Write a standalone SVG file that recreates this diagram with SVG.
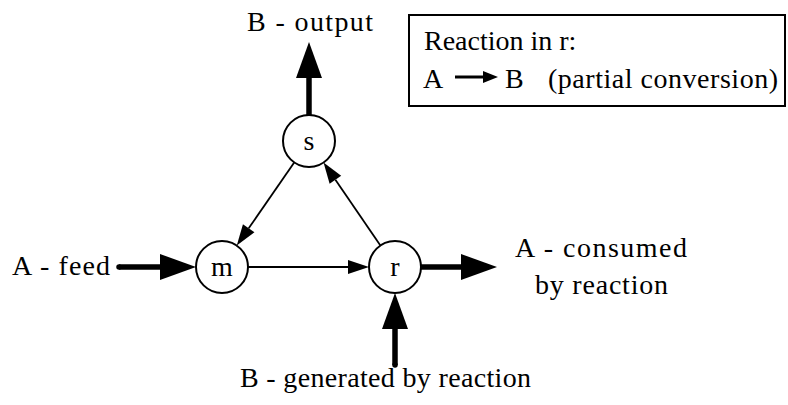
<svg xmlns="http://www.w3.org/2000/svg" width="788" height="405" viewBox="0 0 788 405" font-family="Liberation Serif, DejaVu Serif, serif" font-size="28">
<style>
text{font-family:'Liberation Serif', 'DejaVu Serif', serif;font-size:28px;fill:#000}
.node circle{fill:#fff;stroke:#000;stroke-width:2}
.node text{text-anchor:middle}
.thin{stroke:#000;stroke-width:1.8;fill:none}
.thick{stroke:#000;stroke-width:5.5;fill:none}
</style>
<defs>
<marker id="thinHead" markerUnits="userSpaceOnUse" markerWidth="22" markerHeight="16" refX="0" refY="7" orient="auto" viewBox="0 0 22 14" overflow="visible">
<path d="M0,0 L21,7 L0,14 Z" fill="#000"/>
</marker>
<marker id="smallHead" markerUnits="userSpaceOnUse" markerWidth="16" markerHeight="13" refX="0" refY="6" orient="auto" viewBox="0 0 16 12" overflow="visible">
<path d="M0,0 L15,6 L0,12 Z" fill="#000"/>
</marker>
<marker id="thickHead" markerUnits="userSpaceOnUse" markerWidth="36" markerHeight="26" refX="0" refY="13" orient="auto" viewBox="0 0 36 26" overflow="visible">
<path d="M0,0 L36,13 L0,26 Z" fill="#000"/>
</marker>
</defs>
<g id="connectors">
<line class="thin" x1="294.2" y1="162.4" x2="248.7" y2="228.3" marker-end="url(#thinHead)"/>
<line class="thin" x1="248" y1="267" x2="348" y2="267" marker-end="url(#thinHead)"/>
<line class="thin" x1="380.4" y1="245.5" x2="335.4" y2="179.8" marker-end="url(#thinHead)"/>
<line class="thick" x1="119" y1="267" x2="160" y2="267" marker-end="url(#thickHead)"/>
<circle cx="119" cy="267" r="2.75" fill="#000"/>
<line class="thick" x1="421" y1="267" x2="461" y2="267" marker-end="url(#thickHead)"/>
<line class="thick" x1="395" y1="365" x2="395" y2="329" marker-end="url(#thickHead)"/>
<circle cx="395" cy="365" r="2.75" fill="#000"/>
<line class="thick" x1="309" y1="115" x2="309" y2="78" marker-end="url(#thickHead)"/>
</g>
<g id="node-s" class="node"><circle cx="309" cy="141" r="26"/><text x="309" y="150">s</text></g>
<g id="node-m" class="node"><circle cx="222" cy="267" r="26"/><text x="222" y="276">m</text></g>
<g id="node-r" class="node"><circle cx="395" cy="267" r="26"/><text x="395" y="276">r</text></g>
<g id="labels">
<text x="12" y="275" textLength="98" lengthAdjust="spacing">A - feed</text>
<text x="247" y="31" textLength="126" lengthAdjust="spacing">B - output</text>
<text x="240" y="387" textLength="291" lengthAdjust="spacing">B - generated by reaction</text>
<text x="515" y="257" textLength="172" lengthAdjust="spacing">A - consumed</text>
<text x="535" y="294" textLength="133" lengthAdjust="spacing">by reaction</text>
</g>
<g id="legend">
<rect x="409" y="15" width="376" height="91" fill="#fff" stroke="#000" stroke-width="2"/>
<text x="424" y="50">Reaction in r:</text>
<text x="423" y="88">A</text>
<line x1="455" y1="77" x2="483" y2="77" stroke="#000" stroke-width="3" marker-end="url(#smallHead)"/>
<text x="505" y="88">B</text>
<text x="548" y="88" textLength="230" lengthAdjust="spacing">(partial conversion)</text>
</g>
</svg>
